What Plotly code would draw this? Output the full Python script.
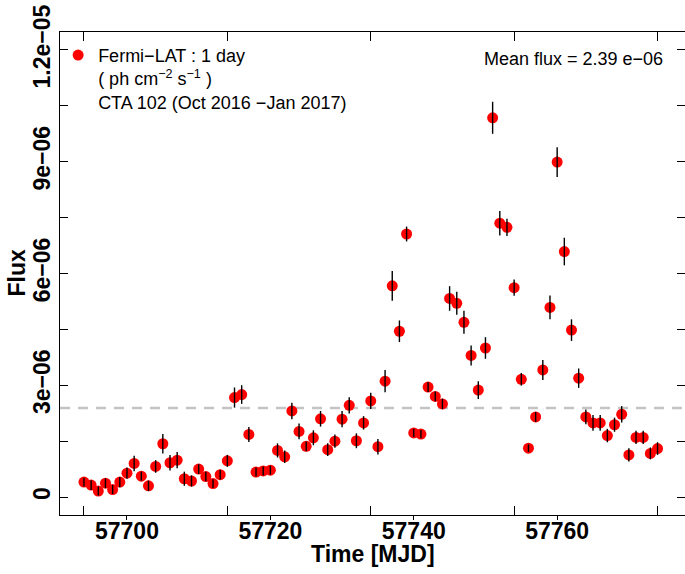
import plotly.graph_objects as go

# ---- data (flux in units of 1e-06 ph cm^-2 s^-1) ----
mjd = [57694, 57695, 57696, 57697, 57698, 57699, 57700, 57701, 57702, 57703,
       57704, 57705, 57706, 57707, 57708, 57709, 57710, 57711, 57712, 57713,
       57714, 57715, 57716, 57717, 57718, 57719, 57720, 57721, 57722, 57723,
       57724, 57725, 57726, 57727, 57728, 57729, 57730, 57731, 57732, 57733,
       57734, 57735, 57736, 57737, 57738, 57739, 57740, 57741, 57742, 57743,
       57744, 57745, 57746, 57747, 57748, 57749, 57750, 57751, 57752, 57753,
       57754, 57755, 57756, 57757, 57758, 57759, 57760, 57761, 57762, 57763,
       57764, 57765, 57766, 57767, 57768, 57769, 57770, 57771, 57772, 57773,
       57774]
flux_e6 = [0.40, 0.32, 0.16, 0.37, 0.20, 0.40, 0.64, 0.90, 0.56, 0.30,
           0.82, 1.43, 0.92, 0.99, 0.49, 0.43, 0.75, 0.55, 0.36, 0.60,
           0.97, 2.67, 2.75, 1.68, 0.67, 0.70, 0.72, 1.25, 1.08, 2.31,
           1.76, 1.36, 1.59, 2.10, 1.27, 1.50, 2.09, 2.46, 1.51, 1.99,
           2.58, 1.35, 3.11, 5.67, 4.45, 7.06, 1.72, 1.69, 2.95, 2.70,
           2.50, 5.33, 5.20, 4.69, 3.80, 2.87, 4.00, 10.18, 7.35, 7.24,
           5.62, 3.16, 1.31, 2.15, 3.41, 5.09, 8.99, 6.59, 4.48, 3.19,
           2.15, 1.99, 1.99, 1.65, 1.94, 2.22, 1.13, 1.60, 1.60, 1.17,
           1.30]
err_e6 = [0.12, 0.13, 0.12, 0.13, 0.12, 0.14, 0.15, 0.21, 0.12, 0.14,
          0.17, 0.26, 0.21, 0.22, 0.19, 0.15, 0.13, 0.13, 0.12, 0.13,
          0.16, 0.27, 0.25, 0.20, 0.12, 0.12, 0.12, 0.19, 0.17, 0.22,
          0.21, 0.13, 0.20, 0.21, 0.17, 0.18, 0.22, 0.22, 0.20, 0.18,
          0.22, 0.21, 0.30, 0.40, 0.29, 0.20, 0.11, 0.11, 0.13, 0.13,
          0.14, 0.33, 0.31, 0.31, 0.27, 0.24, 0.29, 0.43, 0.33, 0.23,
          0.22, 0.17, 0.10, 0.13, 0.27, 0.32, 0.40, 0.37, 0.29, 0.26,
          0.20, 0.21, 0.21, 0.18, 0.19, 0.22, 0.18, 0.18, 0.18, 0.16,
          0.17]
mean_flux = 2.39e-06

x_tick_vals = [57700, 57720, 57740, 57760]
x_tick_text = ["57700", "57720", "57740", "57760"]
x_frame_ticks = [57694, 57714, 57734, 57754, 57774]
y_tick_vals = [0, 3e-06, 6e-06, 9e-06, 1.2e-05]
y_tick_text = ["0", "3e\u221206", "6e\u221206", "9e\u221206", "1.2e\u221205"]
y_minor_vals = [1.5e-06, 4.5e-06, 7.5e-06, 1.05e-05]

flux = [v * 1e-06 for v in flux_e6]
err = [v * 1e-06 for v in err_e6]

FONT = "Liberation Sans, Arial, Helvetica, sans-serif"
xr = [57690.66, 57777.83]
yr = [-4.83e-07, 1.2483e-05]

fig = go.Figure()
fig.add_trace(go.Scatter(
    x=mjd, y=flux, mode="markers",
    marker=dict(color="#FF0000", size=11, line=dict(width=0)),
    name="Fermi\u2212LAT : 1 day<br>( ph cm<sup>\u22122</sup> s<sup>\u22121</sup> )<br>CTA 102 (Oct 2016 \u2212Jan 2017)",
    showlegend=True,
))
fig.add_trace(go.Scatter(
    x=mjd, y=flux, mode="markers",
    marker=dict(size=1, opacity=0),
    error_y=dict(type="data", array=err, visible=True, color="black",
                 thickness=1.4, width=0),
    showlegend=False, hoverinfo="skip",
))
# dummy trace to activate top frame axis
fig.add_trace(go.Scatter(x=[None], y=[None], xaxis="x2", yaxis="y",
                         showlegend=False, hoverinfo="skip"))

fig.add_shape(type="line", xref="paper", x0=0, x1=1, yref="y",
              y0=mean_flux, y1=mean_flux, layer="below",
              line=dict(color="#C4C4C4", width=2.6, dash="10px,8px"))

fig.update_layout(
    width=685, height=574,
    margin=dict(l=60, r=0, t=32, b=59),
    paper_bgcolor="white", plot_bgcolor="white",
    font=dict(family=FONT, color="black"),
    showlegend=True,
    legend=dict(x=-0.003, y=0.99, xanchor="left", yanchor="top",
                bgcolor="rgba(0,0,0,0)", borderwidth=0,
                font=dict(family=FONT, size=18, color="black"),
                valign="top", itemsizing="trace"),
    xaxis=dict(range=xr, showgrid=False, zeroline=False,
               showline=True, linecolor="black", linewidth=1, mirror=False,
               tickmode="array", tickvals=x_tick_vals, ticktext=x_tick_text,
               ticks="outside", ticklen=4, tickcolor="black", tickwidth=1,
               ticklabelstandoff=-9,
               tickfont=dict(family=FONT, size=23, weight="bold"),
               minor=dict(tickmode="array", tickvals=x_frame_ticks,
                          ticks="inside", ticklen=9, tickcolor="black",
                          tickwidth=1, showgrid=False)),
    xaxis2=dict(range=xr, overlaying="x", side="top", anchor="y",
                showgrid=False, zeroline=False, showline=True,
                linecolor="black", linewidth=1,
                tickmode="array", tickvals=x_frame_ticks,
                ticks="inside", ticklen=9, tickcolor="black",
                showticklabels=False),
    yaxis=dict(range=yr, showgrid=False, zeroline=False,
               showline=True, linecolor="black", linewidth=1, mirror="ticks",
               tickmode="array", tickvals=y_tick_vals, ticktext=y_tick_text,
               ticks="inside", ticklen=8, tickcolor="black", tickwidth=1,
               tickangle=-90,
               tickfont=dict(family=FONT, size=23, weight="bold"),
               minor=dict(tickmode="array", tickvals=y_minor_vals,
                          ticks="inside", ticklen=8, tickcolor="black",
                          tickwidth=1, showgrid=False)),
)

fig.add_annotation(text="Time [MJD]", xref="paper", yref="paper",
                   x=0.5, y=-0.0807, xanchor="center", yanchor="middle",
                   showarrow=False,
                   font=dict(family=FONT, size=23, weight="bold"))
fig.add_annotation(text="Flux", xref="paper", yref="paper",
                   x=-0.0464, y=0.5, xanchor="right", yanchor="middle",
                   textangle=-90, showarrow=False,
                   font=dict(family=FONT, size=23, weight="bold"))
fig.add_annotation(text="Mean flux = 2.39 e\u221206", xref="paper", yref="paper",
                   x=0.968, y=0.945, xanchor="right", yanchor="middle",
                   showarrow=False,
                   font=dict(family=FONT, size=18, color="black"))

fig.write_html("out.html")
